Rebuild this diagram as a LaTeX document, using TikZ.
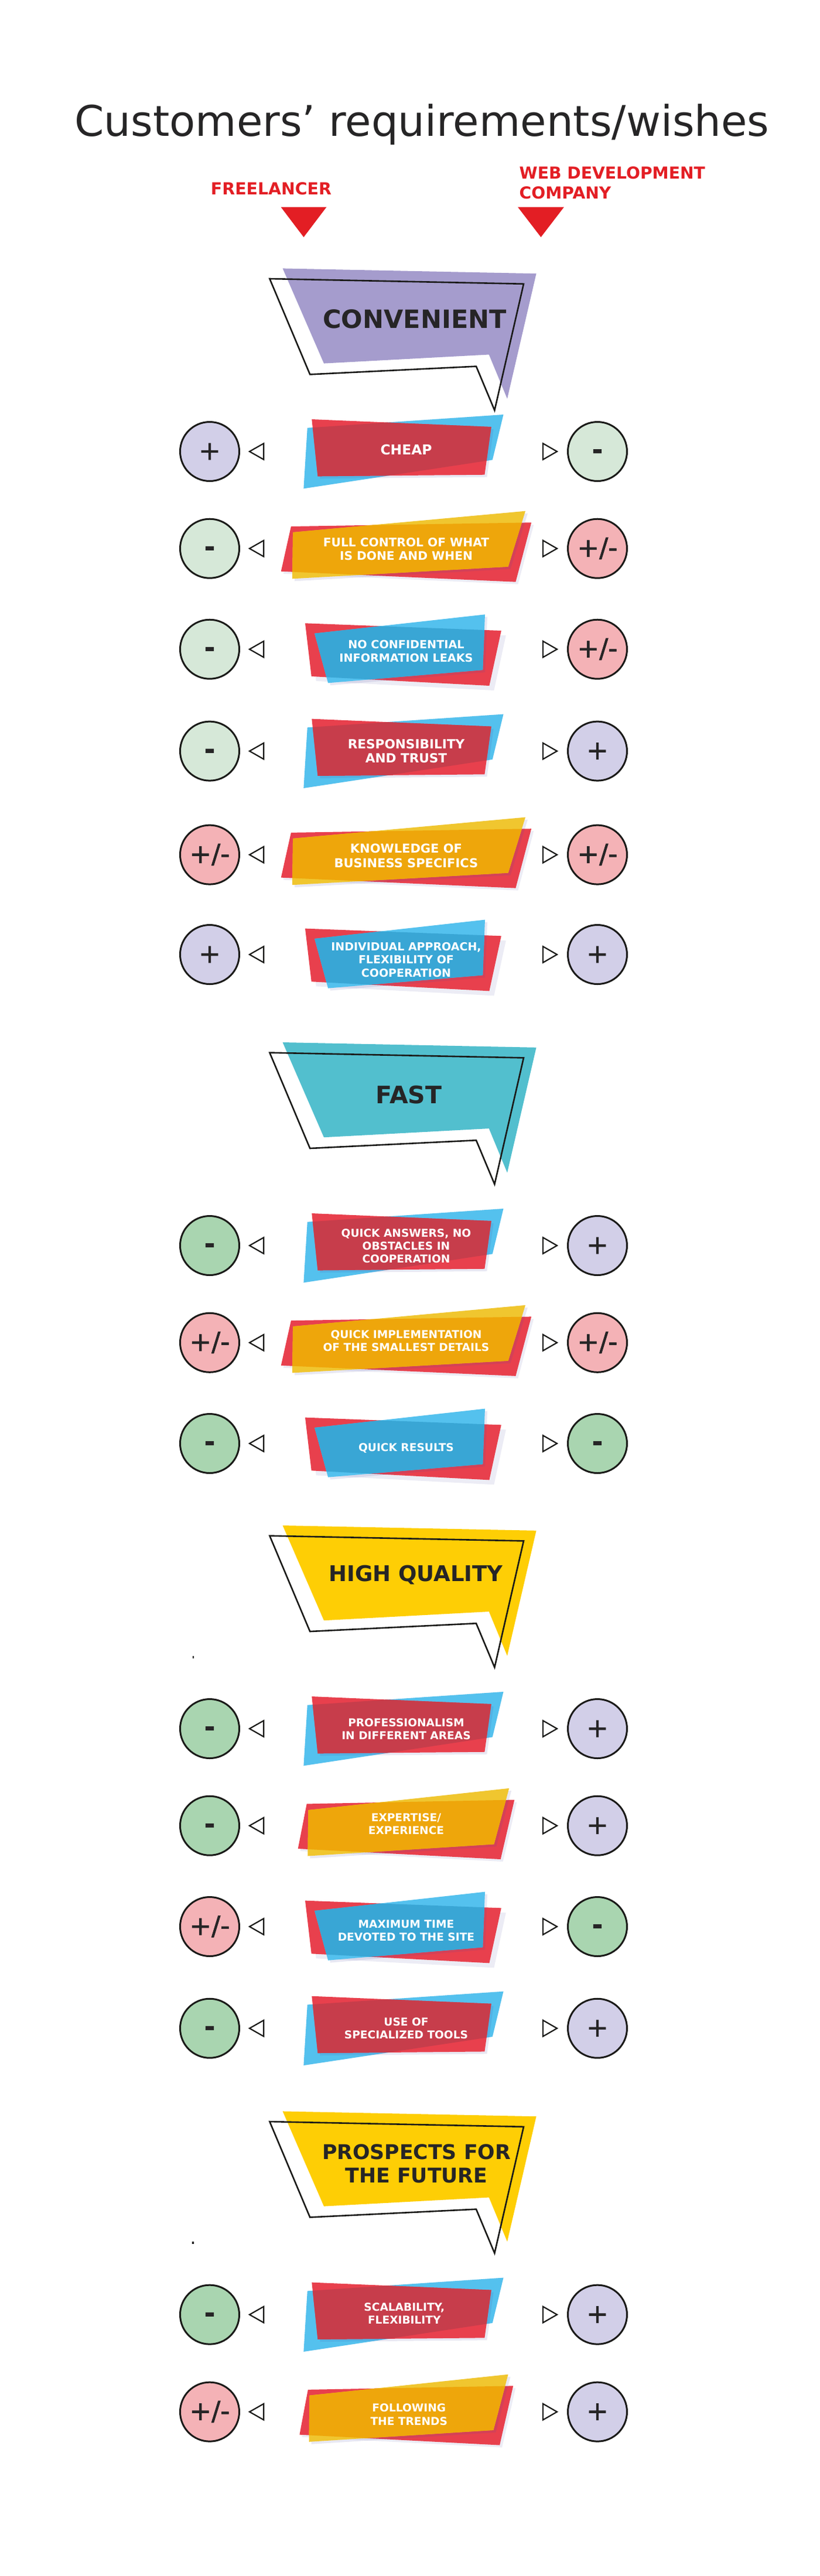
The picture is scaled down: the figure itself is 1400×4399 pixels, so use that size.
\documentclass[tikz,border=0pt]{standalone}
\usepackage{fontspec}
\setmainfont{DejaVu Sans}
\newfontfamily\symfont[FakeBold=1.5]{DejaVu Sans}
\definecolor{ink}{HTML}{262526}
\definecolor{stroke}{HTML}{1A1A18}
\definecolor{headred}{HTML}{E31E24}
\definecolor{rib}{HTML}{E8404D}
\definecolor{ribblue}{HTML}{54C1EE}
\definecolor{ribyel}{HTML}{F0C62F}
\definecolor{ovred}{HTML}{C73D4B}
\definecolor{ovblue}{HTML}{39A6D5}
\definecolor{ovyel}{HTML}{EEA60B}
\definecolor{shade}{HTML}{4A4AA0}
\definecolor{cpur}{HTML}{A59CCD}
\definecolor{cteal}{HTML}{52BFCE}
\definecolor{cyel}{HTML}{FECE05}
\definecolor{lav}{HTML}{D2CFE8}
\definecolor{lgreen}{HTML}{D6E8D8}
\definecolor{mgreen}{HTML}{A9D5B0}
\definecolor{pink}{HTML}{F4B2B6}
\tikzset{
  circ/.style={circle,draw=stroke,line width=3pt,minimum size=101pt,inner sep=0pt,text=ink,
    font=\fontsize{45}{45}\symfont},
  tri/.style={draw=stroke,line width=2.2pt,line join=miter,fill=white},
  bubbleline/.style={draw=stroke,line width=2.6pt,line join=miter},
  lbl/.style={inner sep=0pt,align=center,text=white,font=\bfseries},
}
\newcommand\sm[1]{\smash{#1}}
\newcommand\plusS{\smash{\raisebox{-.314em}{+}}}
\newcommand\minusS{\smash{\raisebox{-.28em}{\bfseries -}}}
\newcommand\bothS{\smash{\raisebox{-.314em}{+/-}}}
% ribbon geometry, y relative to the row centre
\def\Abase{(524.8,-40.3)--(859.5,-63)--(840.8,14.3)--(518.4,63.3)--cycle}
\def\Atop{(532.3,-55)--(838.7,-42)--(827.4,39.7)--(542.5,42.3)--cycle}
\def\Bbase{(496.9,-37.7)--(907.2,-44.4)--(880.4,57)--(479.8,39)--cycle}
\def\Btop{(500.1,-27.7)--(897,-64)--(867.6,31)--(499,51.6)--cycle}
\def\Cbase{(521,-44.4)--(855.8,-31.7)--(835.4,62.3)--(531.7,46.3)--cycle}
\def\Ctop{(537.1,-27)--(828,-59.4)--(824.2,35.3)--(560.1,57.6)--cycle}
\def\Dbase{(523.7,-37.3)--(878.3,-44.2)--(854.7,57.3)--(508.7,39.3)--cycle}
\def\Dtop{(526.4,-26.7)--(869.2,-63.9)--(843.4,31.6)--(525.3,51.8)--cycle}
\def\Ebase{(525.8,-37.8)--(876.2,-44.3)--(853.1,56.9)--(511.4,39)--cycle}
\def\Etop{(528.5,-28)--(867.6,-63.9)--(842.4,31.2)--(527.5,51.2)--cycle}
% #1 cy, #2 base path, #3 top path, #4 base colour, #5 top colour, #6 overlap colour, #7 base shadow offset
\newcommand\ribbon[7]{%
  \begin{scope}[shift={(0,#1)}]
    \begin{scope}[shift={(#7,#7)}]\path[fill=shade,fill opacity=.10] #2;\end{scope}
    \path[fill=#4] #2;
    \begin{scope}[shift={(4,4)}]\path[fill=shade,fill opacity=.12] #3;\end{scope}
    \path[fill=#5] #3;
    \begin{scope}\clip #2;\path[fill=#6] #3;\end{scope}
  \end{scope}}
\newcommand\ribA[1]{\ribbon{#1}{\Abase}{\Atop}{ribblue}{rib}{ovred}{0}}
\newcommand\ribB[1]{\ribbon{#1}{\Bbase}{\Btop}{rib}{ribyel}{ovyel}{4}}
\newcommand\ribC[1]{\ribbon{#1}{\Cbase}{\Ctop}{rib}{ribblue}{ovblue}{8}}
\newcommand\ribD[1]{\ribbon{#1}{\Dbase}{\Dtop}{rib}{ribyel}{ovyel}{4}}
\newcommand\ribE[1]{\ribbon{#1}{\Ebase}{\Etop}{rib}{ribyel}{ovyel}{4}}
% #1 id, #2 cy, #3 left fill, #4 left symbol, #5 right fill, #6 right symbol
\newcommand\rowmarks[6]{%
  \node[circ,fill=#3] (L#1) at (358,#2) {#4};
  \node[circ,fill=#5] (R#1) at (1020,#2) {#6};
  \begin{scope}[shift={(0,#2)}]
    \draw[tri] (450.3,-13.8)--(426,0)--(450.3,13.8)--cycle;
    \draw[tri] (927,-13.8)--(951,0)--(927,13.8)--cycle;
  \end{scope}}
% #1 name, #2 x, #3 y of the cap-height middle of the block, #4 size, #5 leading, #6 text
\newcommand\lab[6]{\node[lbl,font=\fontsize{#4}{#5}\selectfont\bfseries] (#1) at (#2,{#3+0.3645*#4}) {#6};}
% #1 dy, #2 colour
\newcommand\bubble[2]{%
  \begin{scope}[shift={(0,#1)}]
    \path[fill=#2] (482.6,458.4)--(915.6,467.2)--(866,681)--(834.8,605.5)--(553,620.6)--cycle;
    \path[bubbleline] (460.4,476)--(894,484.8)--(844.4,700.6)--(813,625.6)--(529.2,639.4)--cycle;
  \end{scope}}
\begin{document}
\begin{tikzpicture}[x=1pt,y=-1pt]
\useasboundingbox (0,0) rectangle (1400,4399);
\fill[white] (0,0) rectangle (1400,4399);

\node[inner sep=0pt,text=ink,font=\fontsize{72.2}{72}\selectfont] (title) at (720.5,{206.5+0.3645*72}) {\sm{Customers’ requirements/wishes}};
\node[lbl,text=headred,font=\fontsize{28.4}{33.5}\selectfont\bfseries] (free) at (463,{322+0.3645*28.6}) {\sm{FREELANCER}};
\node[lbl,text=headred,align=left,anchor=west,font=\fontsize{28.2}{33.5}\selectfont\bfseries] (web) at (886.5,{312.5+0.3645*28}) {\sm{WEB DEVELOPMENT}\\\sm{COMPANY}};
\path[fill=headred] (479.5,353.5)--(557.5,353.5)--(518.5,405)--cycle;
\path[fill=headred] (884,353.5)--(963,353.5)--(923.5,405)--cycle;

\bubble{0}{cpur}
\bubble{1321.6}{cteal}
\bubble{2146.6}{cyel}
\bubble{3147}{cyel}
\tikzset{lbl/.append style={text=ink}}
\lab{hConv}{708}{544.5}{43}{50}{\sm{CONVENIENT}}
\lab{hFast}{698}{1870}{41}{50}{\sm{FAST}}
\lab{hHigh}{710}{2687}{37}{50}{\sm{HIGH QUALITY}}
\lab{hPros}{711}{3695}{34.7}{39.6}{\sm{PROSPECTS FOR}\\\sm{THE FUTURE}}
\tikzset{lbl/.append style={text=white}}

\fill[black] (328.8,2827.7) rectangle (331.4,2831.7);
\fill[black] (328.2,3828) rectangle (330.8,3832);

\ribA{771}
\ribB{936.7}
\ribC{1108.7}
\ribA{1282.6}
\ribB{1459.6}
\ribC{1630}
\ribA{2127}
\ribB{2292.8}
\ribC{2465}
\ribA{2952}
\ribD{3117.7}
\ribC{3290}
\ribA{3463.7}
\ribA{3952.6}
\ribE{4118.6}

\lab{t1}{693.5}{768.3}{23.4}{24}{\sm{CHEAP}}
\lab{t2}{693.5}{937.6}{20.2}{23.3}{\sm{FULL CONTROL OF WHAT}\\\sm{IS DONE AND WHEN}}
\lab{t3}{693.5}{1111.9}{19.2}{22.3}{\sm{NO CONFIDENTIAL}\\\sm{INFORMATION LEAKS}}
\lab{t4}{693.5}{1282.7}{21.6}{24.6}{\sm{RESPONSIBILITY}\\\sm{AND TRUST}}
\lab{t5}{693.5}{1461.6}{21}{24.7}{\sm{KNOWLEDGE OF}\\\sm{BUSINESS SPECIFICS}}
\lab{t6}{693.5}{1639}{19}{22.2}{\sm{INDIVIDUAL APPROACH,}\\\sm{FLEXIBILITY OF}\\\sm{COOPERATION}}
\lab{t7}{693.5}{2127.8}{18.6}{22.2}{\sm{QUICK ANSWERS, NO}\\\sm{OBSTACLES IN}\\\sm{COOPERATION}}
\lab{t8}{693.5}{2289.7}{18.6}{22}{\sm{QUICK IMPLEMENTATION}\\\sm{OF THE SMALLEST DETAILS}}
\lab{t9}{693.5}{2471.3}{18.6}{22}{\sm{QUICK RESULTS}}
\lab{t10}{693.5}{2952.7}{18.6}{22.1}{\sm{PROFESSIONALISM}\\\sm{IN DIFFERENT AREAS}}
\lab{t11}{693.5}{3114.8}{18.6}{22}{\sm{EXPERTISE/}\\\sm{EXPERIENCE}}
\lab{t12}{693.5}{3297}{18.6}{22}{\sm{MAXIMUM TIME}\\\sm{DEVOTED TO THE SITE}}
\lab{t13}{693.5}{3464}{18.6}{22}{\sm{USE OF}\\\sm{SPECIALIZED TOOLS}}
\lab{t14}{690.3}{3951}{18.6}{22}{\sm{SCALABILITY,}\\\sm{FLEXIBILITY}}
\lab{t15}{698.3}{4123.2}{18.6}{22.1}{\sm{FOLLOWING}\\\sm{THE TRENDS}}

\rowmarks{1}{771}{lav}{\plusS}{lgreen}{\minusS}
\rowmarks{2}{936.7}{lgreen}{\minusS}{pink}{\bothS}
\rowmarks{3}{1108.7}{lgreen}{\minusS}{pink}{\bothS}
\rowmarks{4}{1282.6}{lgreen}{\minusS}{lav}{\plusS}
\rowmarks{5}{1459.6}{pink}{\bothS}{pink}{\bothS}
\rowmarks{6}{1630}{lav}{\plusS}{lav}{\plusS}
\rowmarks{7}{2127}{mgreen}{\minusS}{lav}{\plusS}
\rowmarks{8}{2292.8}{pink}{\bothS}{pink}{\bothS}
\rowmarks{9}{2465}{mgreen}{\minusS}{mgreen}{\minusS}
\rowmarks{10}{2952}{mgreen}{\minusS}{lav}{\plusS}
\rowmarks{11}{3117.7}{mgreen}{\minusS}{lav}{\plusS}
\rowmarks{12}{3290}{pink}{\bothS}{mgreen}{\minusS}
\rowmarks{13}{3463.7}{mgreen}{\minusS}{lav}{\plusS}
\rowmarks{14}{3952.6}{mgreen}{\minusS}{lav}{\plusS}
\rowmarks{15}{4118.6}{pink}{\bothS}{lav}{\plusS}
\end{tikzpicture}
\end{document}
